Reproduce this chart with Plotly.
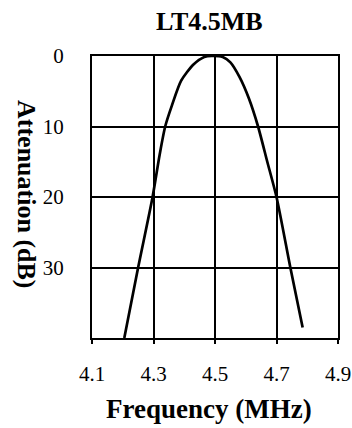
import plotly.graph_objects as go

freq = [4.205, 4.25, 4.297, 4.32, 4.338, 4.36, 4.39, 4.43, 4.465, 4.49, 4.525, 4.55, 4.58, 4.61, 4.64, 4.67, 4.70, 4.745, 4.785]
atten = [40, 30, 20, 14, 10, 7, 3.5, 1.2, 0.15, 0, 0.15, 0.9, 3.0, 6.0, 10, 15, 20, 30, 38.5]

x_ticks = [4.1, 4.3, 4.5, 4.7, 4.9]
x_tick_labels = ["4.1", "4.3", "4.5", "4.7", "4.9"]
y_ticks = [0, 10, 20, 30]
y_tick_labels = ["0", "10", "20", "30"]

title_text = "LT4.5MB"
x_title = "Frequency (MHz)"
y_title = "Attenuation (dB)"

FONT = "Liberation Serif"

W, H = 352, 428
L, R, T, B = 92, 14, 56, 90
PW = W - L - R
PH = H - T - B

def px_to_paper_x(px):
    return (px - L) / PW

def px_to_paper_y(py):
    return 1 - (py - T) / PH

fig = go.Figure()
fig.add_trace(go.Scatter(
    x=freq, y=atten, mode="lines",
    line=dict(color="black", width=2.7, shape="spline", smoothing=0.7),
    showlegend=False, hoverinfo="skip",
))

fig.update_layout(
    template="none",
    width=W, height=H,
    margin=dict(l=L, r=R, t=T, b=B, pad=0),
    paper_bgcolor="white", plot_bgcolor="white",
    font=dict(family=FONT, color="black", size=20),
    showlegend=False,
    annotations=[
        dict(text=f"<b>{title_text}</b>", xref="paper", yref="paper",
             x=px_to_paper_x(209.5), y=px_to_paper_y(21), xanchor="center", yanchor="middle",
             showarrow=False, font=dict(size=26, family=FONT, color="black")),
        dict(text=f"<b>{x_title}</b>", xref="paper", yref="paper",
             x=px_to_paper_x(208.5), y=px_to_paper_y(409), xanchor="center", yanchor="middle",
             showarrow=False, font=dict(size=27, family=FONT, color="black")),
        dict(text=f"<b>{y_title}</b>", xref="paper", yref="paper",
             x=px_to_paper_x(26), y=px_to_paper_y(194), xanchor="center", yanchor="middle",
             textangle=90,
             showarrow=False, font=dict(size=26, family=FONT, color="black")),
    ],
)

fig.update_xaxes(
    automargin=False,
    range=[4.1, 4.9], tickvals=x_ticks, ticktext=x_tick_labels,
    showgrid=True, gridcolor="black", gridwidth=1.6,
    showline=True, linecolor="black", linewidth=2, mirror=True,
    ticks="outside", ticklen=4, tickwidth=2, tickcolor="black",
    zeroline=False, tickfont=dict(size=21, family=FONT),
    ticklabelstandoff=12,
)
fig.update_yaxes(
    automargin=False,
    range=[40, 0], tickvals=y_ticks, ticktext=y_tick_labels,
    showgrid=True, gridcolor="black", gridwidth=1.6,
    showline=True, linecolor="black", linewidth=2, mirror=True,
    ticks="", zeroline=False, tickfont=dict(size=21, family=FONT),
    ticklabelstandoff=22,
)

fig.write_html(
    "out.html",
    config={"displayModeBar": False},
    post_script="document.body.style.margin='0';document.body.style.overflow='hidden';",
)
